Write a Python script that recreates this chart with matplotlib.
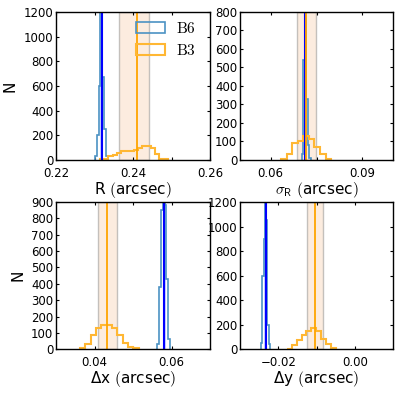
import matplotlib
matplotlib.use('Agg')
import matplotlib.pyplot as plt
import numpy as np

plt.rcParams['mathtext.fontset'] = 'cm'
plt.rcParams['font.family'] = 'DejaVu Sans'

# --- R panel ---
r_b6_edges = [0.2301, 0.23058, 0.23106, 0.23154, 0.23202, 0.2325, 0.23298, 0.23346]
r_b6_counts = [30, 200, 600, 1500, 670, 250, 30]
r_b3_edges = [0.23143, 0.23253, 0.23363, 0.23473, 0.23583, 0.23693, 0.23803, 0.23913,
              0.24023, 0.24133, 0.24243, 0.24353, 0.24463, 0.24573, 0.24683, 0.24793, 0.24903]
r_b3_counts = [5, 10, 30, 40, 60, 70, 72, 75, 80, 95, 115, 110, 95, 50, 10, 5]

# --- sigma_R panel ---
s_b6_edges = [0.0701, 0.0706, 0.0711, 0.0716, 0.0721, 0.0726, 0.0731]
s_b6_counts = [30, 540, 760, 330, 80, 10]
s_b3_edges = [0.0634, 0.0652, 0.0670, 0.0689, 0.0707, 0.0725, 0.0743, 0.0761, 0.0780, 0.0798]
s_b3_counts = [5, 30, 90, 105, 130, 115, 70, 30, 5]

# --- dx panel ---
dx_b6_edges = [0.05632, 0.05679, 0.05726, 0.05773, 0.0582, 0.05867, 0.05914, 0.05961]
dx_b6_counts = [30, 380, 850, 1300, 880, 430, 60]
dx_b3_edges = [0.0362, 0.03759, 0.03898, 0.04037, 0.04176, 0.04315, 0.04454, 0.04593,
               0.04732, 0.04871, 0.0501, 0.05149]
dx_b3_counts = [5, 30, 90, 130, 150, 150, 130, 90, 40, 15, 5]

# --- dy panel ---
dy_b6_edges = [-0.02452, -0.02418, -0.02384, -0.0235, -0.02316, -0.02282, -0.02248, -0.02214]
dy_b6_counts = [50, 600, 900, 1400, 1050, 200, 40]
dy_b3_edges = [-0.01782, -0.01652, -0.01522, -0.01392, -0.01262, -0.01132, -0.01002,
               -0.00872, -0.00742, -0.00612, -0.00482]
dy_b3_counts = [5, 35, 75, 115, 150, 170, 150, 80, 40, 10]

# medians and 1-sigma ranges (B6, B3)
r_b6_med, r_b6_lo, r_b6_hi = 0.23187, 0.23143, 0.23229
r_b3_med, r_b3_lo, r_b3_hi = 0.2411, 0.23645, 0.24424
s_b6_med, s_b6_lo, s_b6_hi = 0.0714, 0.0711, 0.0718
s_b3_med, s_b3_lo, s_b3_hi = 0.0716, 0.06856, 0.07478
dx_b6_med, dx_b6_lo, dx_b6_hi = 0.05813, 0.05771, 0.05857
dx_b3_med, dx_b3_lo, dx_b3_hi = 0.04333, 0.04099, 0.04593
dy_b6_med, dy_b6_lo, dy_b6_hi = -0.0233, -0.0237, -0.0229
dy_b3_med, dy_b3_lo, dy_b3_hi = -0.01043, -0.0126, -0.00827

b6_col = '#4c92c3'
b3_col = '#ffb733'
band_face = (0.957, 0.643, 0.376, 0.2)
band_edge = (0.5, 0.5, 0.5, 0.45)

fig = plt.figure(figsize=(3.99, 3.93), dpi=100)
ax1 = fig.add_axes([0.1404, 0.5929, 0.3859, 0.3766])
ax2 = fig.add_axes([0.6015, 0.5929, 0.3835, 0.3766])
ax3 = fig.add_axes([0.1404, 0.1112, 0.3859, 0.3748])
ax4 = fig.add_axes([0.6015, 0.1112, 0.3835, 0.3748])

panels = [
    (ax1, r_b6_edges, r_b6_counts, r_b3_edges, r_b3_counts,
     (r_b6_med, r_b6_lo, r_b6_hi), (r_b3_med, r_b3_lo, r_b3_hi)),
    (ax2, s_b6_edges, s_b6_counts, s_b3_edges, s_b3_counts,
     (s_b6_med, s_b6_lo, s_b6_hi), (s_b3_med, s_b3_lo, s_b3_hi)),
    (ax3, dx_b6_edges, dx_b6_counts, dx_b3_edges, dx_b3_counts,
     (dx_b6_med, dx_b6_lo, dx_b6_hi), (dx_b3_med, dx_b3_lo, dx_b3_hi)),
    (ax4, dy_b6_edges, dy_b6_counts, dy_b3_edges, dy_b3_counts,
     (dy_b6_med, dy_b6_lo, dy_b6_hi), (dy_b3_med, dy_b3_lo, dy_b3_hi)),
]

for ax, e6, c6, e3, c3, st6, st3 in panels:
    ax.hist(e6[:-1], bins=e6, weights=c6, histtype='step', color=b6_col, lw=1.2,
            label=r'$\mathrm{B6}$')
    ax.hist(e3[:-1], bins=e3, weights=c3, histtype='step', color=b3_col, lw=1.5,
            label=r'$\mathrm{B3}$')
    ax.axvspan(st3[1], st3[2], facecolor=band_face, edgecolor=band_edge, lw=1.0)
    ax.axvspan(st6[1], st6[2], facecolor=(0.3, 0.45, 1.0, 0.3), edgecolor='none')
    ax.axvline(st6[0], color='blue', lw=1.5)
    ax.axvline(st3[0], color='orange', lw=1.3)
    ax.tick_params(direction='in', top=True, right=True, length=2.5, width=0.8,
                   labelsize=8.5)
    ax.tick_params(axis='x', pad=5)
    ax.tick_params(axis='y', pad=2)
    for s in ax.spines.values():
        s.set_linewidth(1.0)

ax1.set_xlim(0.22, 0.26)
ax1.set_xticks([0.22, 0.23, 0.24, 0.25, 0.26], labels=['0.22', '', '0.24', '', '0.26'])
ax1.set_ylim(0, 1200)
ax1.set_yticks(np.arange(0, 1201, 200))

ax2.set_xlim(0.05, 0.10)
ax2.set_xticks([0.06, 0.075, 0.09], labels=['0.06', '', '0.09'])
ax2.set_ylim(0, 800)
ax2.set_yticks(np.arange(0, 801, 100))

ax3.set_xlim(0.03, 0.07)
ax3.set_xticks([0.04, 0.05, 0.06], labels=['0.04', '', '0.06'])
ax3.set_ylim(0, 900)
ax3.set_yticks(np.arange(0, 901, 100))

ax4.set_xlim(-0.03, 0.01)
ax4.set_xticks([-0.02, -0.01, 0.0], labels=['\u22120.02', '', '0.00'])
ax4.set_ylim(0, 1200)
ax4.set_yticks(np.arange(0, 1201, 200))

ax1.set_xlabel(r'R $($arcsec$)$', fontsize=11, labelpad=0)
ax2.set_xlabel(r'$\sigma_{\mathsf{R}}$ $($arcsec$)$', fontsize=11, labelpad=0)
ax3.set_xlabel(r'Δx $($arcsec$)$', fontsize=11, labelpad=0)
ax4.set_xlabel(r'Δy $($arcsec$)$', fontsize=11, labelpad=0)
ax1.set_ylabel('N', fontsize=11)
ax3.set_ylabel('N', fontsize=11)

ax1.legend(loc='upper left', bbox_to_anchor=(0.52, 0.94), frameon=False, fontsize=11,
           handlelength=1.9, handleheight=0.72, handletextpad=0.7, labelspacing=0.45,
           borderpad=0, borderaxespad=0)

fig.savefig('out.png', dpi=100)
